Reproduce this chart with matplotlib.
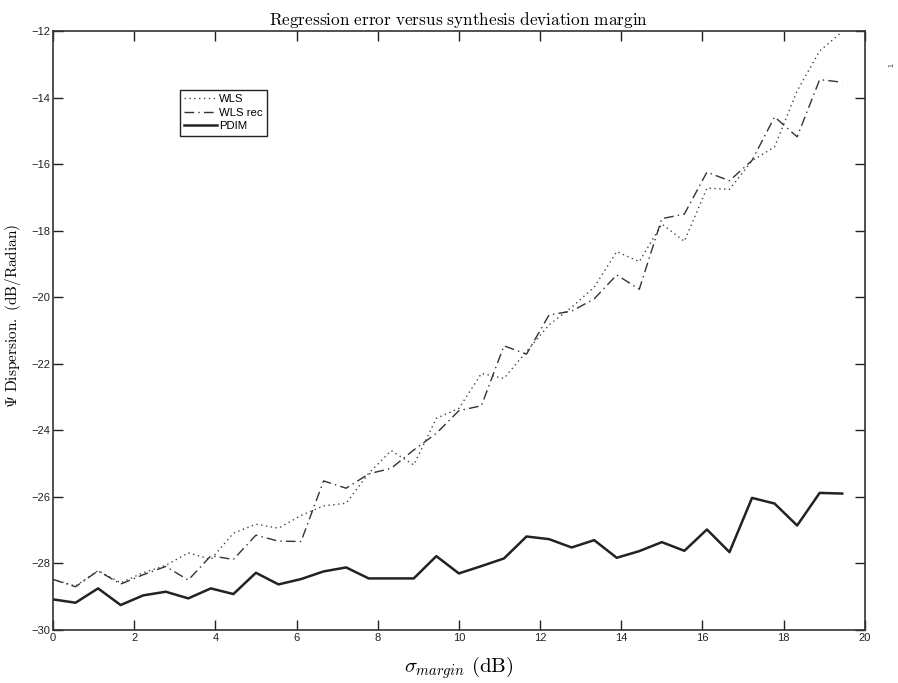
import numpy as np
import matplotlib
matplotlib.use("Agg")
import matplotlib.pyplot as plt

plt.rcParams['mathtext.fontset'] = 'cm'
plt.rcParams['font.family'] = ['Liberation Sans', 'DejaVu Sans']

# sigma margin sampled in 36 steps of 20/36 dB
sigma = np.arange(36) * 20 / 36

wls = [-28.48, -28.68, -28.22, -28.58, -28.28, -28.06, -27.68, -27.88, -27.09, -26.82,
       -26.94, -26.56, -26.27, -26.19, -25.29, -24.61, -25.04, -23.64, -23.34, -22.29,
       -22.44, -21.63, -20.83, -20.30, -19.70, -18.63, -18.93, -17.80, -18.32, -16.72,
       -16.76, -15.90, -15.48, -13.80, -12.60, -12.02]

wls_rec = [-28.48, -28.70, -28.22, -28.62, -28.34, -28.09, -28.50, -27.77, -27.88, -27.15,
           -27.33, -27.34, -25.52, -25.74, -25.31, -25.14, -24.59, -24.09, -23.41, -23.26,
           -21.46, -21.71, -20.53, -20.42, -20.05, -19.33, -19.76, -17.64, -17.50, -16.24,
           -16.50, -15.89, -14.58, -15.18, -13.46, -13.54]

pdim = [-29.08, -29.18, -28.75, -29.25, -28.96, -28.85, -29.05, -28.75, -28.92, -28.28,
        -28.63, -28.47, -28.24, -28.12, -28.45, -28.45, -28.45, -27.78, -28.30, -28.08,
        -27.85, -27.19, -27.27, -27.52, -27.30, -27.83, -27.63, -27.36, -27.62, -26.98,
        -27.66, -26.03, -26.20, -26.86, -25.88, -25.90]

fig = plt.figure(figsize=(8.98, 6.83), dpi=100)
ax = fig.add_axes([0.059, 0.0776, 0.904, 0.877])

ax.plot(sigma, wls, color='#444444', linestyle=(0, (1, 2.5)), linewidth=1.0, label='WLS')
ax.plot(sigma, wls_rec, color='#333333', linestyle=(0, (7, 3, 1, 3)), linewidth=1.0, label='WLS rec')
ax.plot(sigma, pdim, color='#222222', linestyle='-', linewidth=1.8, label='PDIM')

ax.set_xlim(0, 20)
ax.set_ylim(-30, -12)
ax.set_xticks(np.arange(0, 21, 2))
ax.set_yticks(np.arange(-30, -11, 2))
ax.tick_params(direction='in', length=7, width=1, top=True, right=True,
               labelsize=8, colors='#222222', pad=2)
for sp in ax.spines.values():
    sp.set_color('#333333')
    sp.set_linewidth(1.2)

ax.set_title(r'$\mathrm{Regression\ error\ versus\ synthesis\ deviation\ margin}$',
             fontsize=12.4, pad=4)
ax.set_xlabel(r'$\sigma_{margin}\ \mathrm{(dB)}$', fontsize=15, labelpad=8)
ax.set_ylabel(r'$\Psi\ \mathrm{Dispersion.\ (dB/Radian)}$', fontsize=11)
ax.yaxis.set_label_coords(-0.037, 0.524)

leg = ax.legend(loc='upper left', bbox_to_anchor=(0.156, 0.902), fontsize=8.2,
                handlelength=2.9, handletextpad=0.15, borderpad=0.4, labelspacing=0.3,
                fancybox=False, framealpha=1, edgecolor='#222222', borderaxespad=0)
leg.get_frame().set_linewidth(1.0)

fig.text(0.989, 0.905, '1', rotation=90, fontsize=5, color='#333333')

fig.savefig('out.png', dpi=100)
